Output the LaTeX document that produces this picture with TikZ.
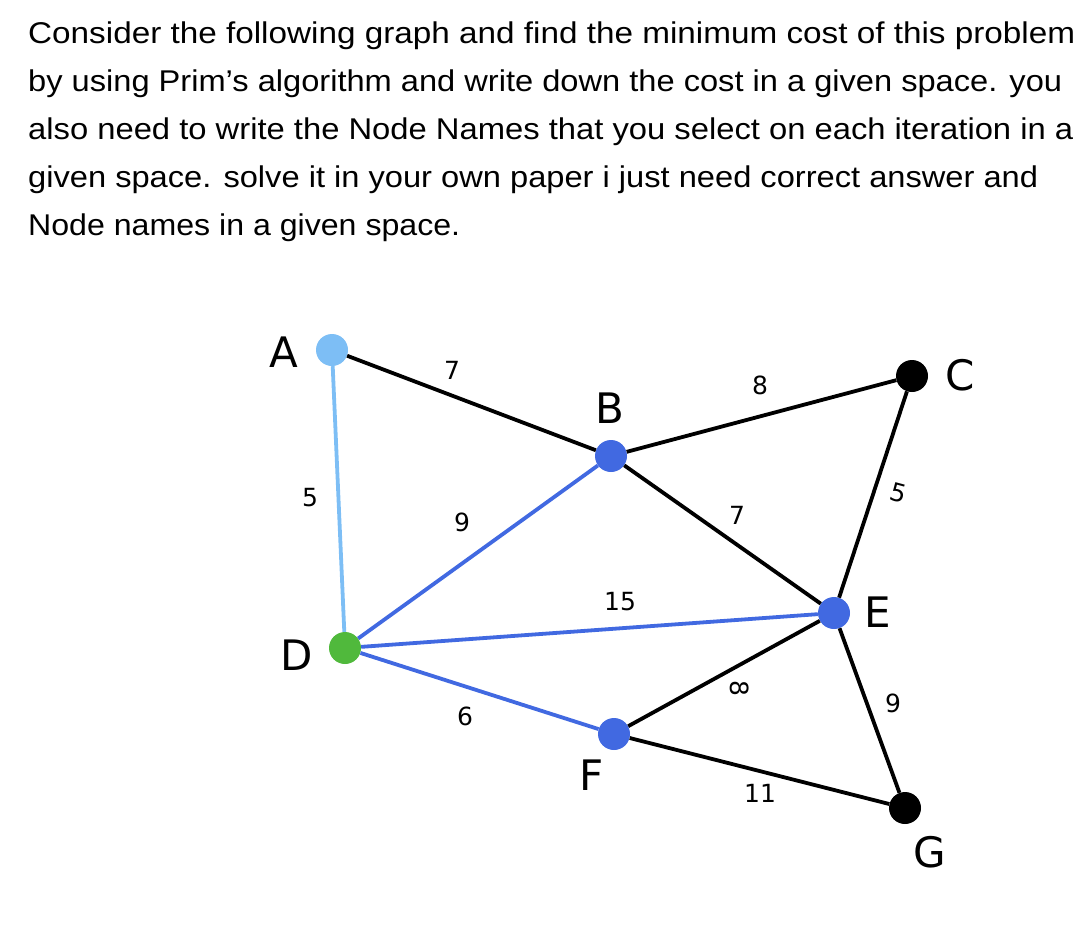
\documentclass[tikz,border=0pt]{standalone}
\usepackage{fontspec}
\setmainfont[Ligatures=ResetAll]{Liberation Sans}
\newfontfamily\lblfont{DejaVu Sans}
\newcommand{\fitline}[2]{\resizebox{#1pt}{\height}{#2}}
\begin{document}
\begin{tikzpicture}[x=1pt,y=-1pt,
  txt/.style={anchor=west,inner sep=0,font=\fontsize{30}{30}\selectfont},
  vtx/.style={circle,inner sep=0,minimum size=32pt,fill=#1},
  edge/.style={line width=3.8pt,draw=#1},
  wt/.style={font=\lblfont\fontsize{25}{25}\selectfont,inner sep=1pt},
  nm/.style={font=\lblfont\fontsize{42}{42}\selectfont,inner sep=0}]
\useasboundingbox (0,0) rectangle (1082,930);
\definecolor{lb}{RGB}{125,190,245}
\definecolor{bl}{RGB}{65,105,225}
\definecolor{gr}{RGB}{80,185,60}
\node[txt] (t1) at (28,36) {\fitline{1047}{Consider the following graph and find the minimum cost of this problem}};
\node[txt] (t2) at (28,84) {\fitline{1034}{by using Prim's algorithm and write down the cost in a given space. you}};
\node[txt] (t3) at (28,132) {\fitline{1045}{also need to write the Node Names that you select on each iteration in a}};
\node[txt] (t4) at (28,180) {\fitline{1010}{given space. solve it in your own paper i just need correct answer and}};
\node[txt] (t5) at (28,228) {\fitline{432}{Node names in a given space.}};
\node[vtx=lb] (A) at (332,350) {};
\node[vtx=bl] (B) at (611,456) {};
\node[vtx=black] (C) at (912,376) {};
\node[vtx=gr] (D) at (345,648) {};
\node[vtx=bl] (E) at (834,613) {};
\node[vtx=bl] (F) at (614,734) {};
\node[vtx=black] (G) at (905,808) {};
\draw[edge=black] (A) -- (B);
\draw[edge=lb] (A) -- (D);
\draw[edge=bl] (B) -- (D);
\draw[edge=black] (B) -- (C);
\draw[edge=black] (B) -- (E);
\draw[edge=black] (C) -- (E);
\draw[edge=bl] (D) -- (E);
\draw[edge=bl] (D) -- (F);
\draw[edge=black] (F) -- (E);
\draw[edge=black] (F) -- (G);
\draw[edge=black] (E) -- (G);
\node[wt] (w1) at (452,370) {7};
\node[wt] (w2) at (760,385) {8};
\node[wt] (w3) at (310,498) {5};
\node[wt] (w4) at (462,522) {9};
\node[wt] (w5) at (737,515) {7};
\node[wt,rotate=-15] (w6) at (898,493) {5};
\node[wt] (w7) at (620,602) {15};
\node[wt,rotate=-90] (w8) at (740,688) {8};
\node[wt] (w9) at (893,703) {9};
\node[wt] (w10) at (465,716) {6};
\node[wt] (w11) at (760,793) {11};
\node[nm] (nA) at (284,352) {A};
\node[nm] (nB) at (610,408) {B};
\node[nm] (nC) at (960,375) {C};
\node[nm] (nD) at (297,655) {D};
\node[nm] (nE) at (878,612) {E};
\node[nm] (nF) at (592,775) {F};
\node[nm] (nG) at (930,852) {G};
\end{tikzpicture}
\end{document}
